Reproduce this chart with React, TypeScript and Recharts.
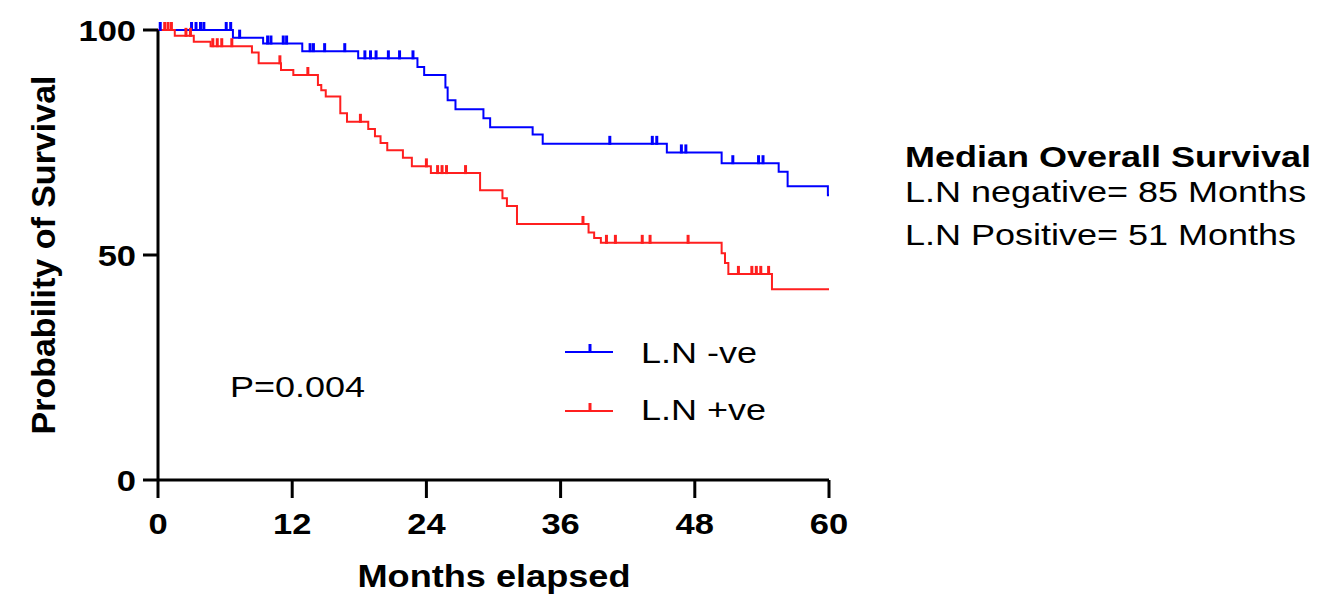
import React from 'react';
import { ComposedChart, Line, XAxis, YAxis } from 'recharts';

// L.N -ve group: Kaplan-Meier steps as [month, survival %]
const negEvents: [number, number][] = [
  [0, 100], [6.7, 98.3], [9.4, 97.0], [12.9, 95.3], [17.9, 93.7], [23.2, 91.8],
  [23.8, 90.0], [25.7, 87.2], [25.9, 84.4], [26.6, 82.4], [29.1, 80.4], [29.7, 78.4],
  [33.5, 76.8], [34.4, 74.7], [45.5, 72.8], [50.4, 70.4], [55.5, 68.5], [56.3, 65.3],
  [59.9, 63.3], [60, 63.3],
];
// censored patients (tick marks)
const negCensored: [number, number][] = [
  [0.2, 100], [3.0, 100], [3.4, 100], [3.8, 100], [4.1, 100], [6.1, 100], [6.5, 100],
  [7.3, 98.3], [9.8, 97.0], [10.1, 97.0], [11.2, 97.0], [11.5, 97.0],
  [13.6, 95.3], [13.9, 95.3], [14.9, 95.3], [16.7, 95.3],
  [18.5, 93.7], [19.0, 93.7], [19.5, 93.7], [20.6, 93.7], [21.6, 93.7], [22.8, 93.7],
  [40.4, 74.7], [44.2, 74.7], [44.6, 74.7], [46.8, 72.8], [47.2, 72.8],
  [51.4, 70.4], [53.7, 70.4], [54.1, 70.4],
];

// L.N +ve group
const posEvents: [number, number][] = [
  [0, 100], [1.5, 98.7], [3.2, 97.4], [4.7, 96.4], [8.4, 95.0], [9.0, 92.6],
  [11.0, 91.1], [12.1, 90.0], [14.3, 87.8], [14.6, 86.6], [15.0, 85.2], [16.3, 81.5],
  [16.9, 79.6], [18.8, 78.0], [19.4, 76.4], [19.9, 74.9], [20.5, 73.3], [21.9, 71.6],
  [22.7, 69.7], [24.4, 68.2], [28.8, 64.4], [30.8, 62.6], [31.2, 60.9], [32.1, 56.9],
  [38.5, 55.0], [39.0, 53.8], [39.6, 52.7], [50.4, 50.4], [50.7, 48.2], [51.0, 45.8],
  [54.9, 42.4], [60, 42.4],
];
const posCensored: [number, number][] = [
  [0.6, 100], [0.9, 100], [1.2, 100], [2.5, 98.7], [2.9, 98.7],
  [4.9, 96.4], [5.3, 96.4], [5.7, 96.4], [6.6, 96.4],
  [10.9, 92.6], [13.4, 90.0], [18.1, 79.6], [24.0, 69.7],
  [25.0, 68.2], [25.4, 68.2], [25.8, 68.2], [27.5, 68.2],
  [38.0, 56.9], [40.1, 52.7], [40.9, 52.7], [43.3, 52.7], [44.0, 52.7], [47.4, 52.7],
  [51.9, 45.8], [53.1, 45.8], [53.5, 45.8], [53.9, 45.8], [54.6, 45.8],
];

const xTicks = [0, 12, 24, 36, 48, 60];
const yTicks = [0, 50, 100];

const BLUE = '#0000FF';
const RED = '#FF1F1F';
const FONT = '"Liberation Sans", Arial, sans-serif';

const buildSeries = (events: [number, number][], censored: [number, number][]) =>
  [
    ...events.map(([t, s]) => ({ t, s, c: false })),
    ...censored.map(([t, s]) => ({ t, s, c: true })),
  ].sort((a, b) => a.t - b.t);

const negData = buildSeries(negEvents, negCensored);
const posData = buildSeries(posEvents, posCensored);

const censorMark = (color: string) => (props: any) => {
  const { cx, cy, payload, index } = props;
  if (!payload || !payload.c) return <g key={`n-${index}`} />;
  return (
    <line key={`c-${index}`} x1={cx} x2={cx} y1={cy + 1} y2={cy - 8} stroke={color} strokeWidth={3} />
  );
};

const XTick = (props: any) => {
  const { x, y, payload } = props;
  return (
    <text
      transform={`translate(${x},${y + 34}) scale(1.15,1)`}
      textAnchor="middle"
      fontFamily={FONT}
      fontWeight="bold"
      fontSize={30}
      fill="#000"
    >
      {payload.value}
    </text>
  );
};

const YTick = (props: any) => {
  const { x, y, payload } = props;
  return (
    <text
      transform={`translate(${x},${y + 11}) scale(1.15,1)`}
      textAnchor="end"
      fontFamily={FONT}
      fontWeight="bold"
      fontSize={30}
      fill="#000"
    >
      {payload.value}
    </text>
  );
};

const txt = (x: number, y: number, s: string, bold = false) => (
  <text
    transform={`translate(${x},${y}) scale(1.2,1)`}
    fontFamily={FONT}
    fontWeight={bold ? 'bold' : 'normal'}
    fontSize={30}
    fill="#000"
  >
    {s}
  </text>
);

export default function App() {
  return (
    <div style={{ position: 'absolute', left: 0, top: 0, width: 1317, height: 594, background: '#fff' }}>
      <ComposedChart width={1317} height={594} margin={{ top: 30, right: 488, bottom: 0, left: 0 }}>
        <XAxis
          type="number"
          dataKey="t"
          domain={[0, 60]}
          ticks={xTicks}
          height={114}
          tickSize={18}
          axisLine={{ stroke: '#000', strokeWidth: 3 }}
          tickLine={{ stroke: '#000', strokeWidth: 3 }}
          tick={<XTick />}
          allowDuplicatedCategory={false}
        />
        <YAxis
          type="number"
          domain={[0, 100]}
          ticks={yTicks}
          width={158}
          tickSize={15}
          tickMargin={7}
          axisLine={{ stroke: '#000', strokeWidth: 3 }}
          tickLine={{ stroke: '#000', strokeWidth: 3 }}
          tick={<YTick />}
        />
        <Line
          data={negData}
          dataKey="s"
          type="stepAfter"
          stroke={BLUE}
          strokeWidth={2}
          dot={censorMark(BLUE)}
          activeDot={false}
          isAnimationActive={false}
        />
        <Line
          data={posData}
          dataKey="s"
          type="stepAfter"
          stroke={RED}
          strokeWidth={2}
          dot={censorMark(RED)}
          activeDot={false}
          isAnimationActive={false}
        />
      </ComposedChart>
      <svg width={1317} height={594} style={{ position: 'absolute', left: 0, top: 0, pointerEvents: 'none' }}>
        <text
          transform="translate(55,255) rotate(-90)"
          textAnchor="middle"
          fontFamily={FONT}
          fontWeight="bold"
          fontSize={34}
          fill="#000"
        >
          Probability of Survival
        </text>
        <text
          transform="translate(494,587) scale(1.13,1)"
          textAnchor="middle"
          fontFamily={FONT}
          fontWeight="bold"
          fontSize={32}
          fill="#000"
        >
          Months elapsed
        </text>
        {txt(230, 397, 'P=0.004')}
        <line x1={565} x2={613} y1={352} y2={352} stroke={BLUE} strokeWidth={2} />
        <line x1={590} x2={590} y1={353} y2={344} stroke={BLUE} strokeWidth={3} />
        {txt(641, 363, 'L.N -ve')}
        <line x1={565} x2={613} y1={411} y2={411} stroke={RED} strokeWidth={2} />
        <line x1={590} x2={590} y1={412} y2={403} stroke={RED} strokeWidth={3} />
        {txt(641, 420, 'L.N +ve')}
        {txt(905, 167, 'Median Overall Survival', true)}
        {txt(905, 202, 'L.N negative= 85 Months')}
        {txt(905, 245, 'L.N Positive= 51 Months')}
      </svg>
    </div>
  );
}
